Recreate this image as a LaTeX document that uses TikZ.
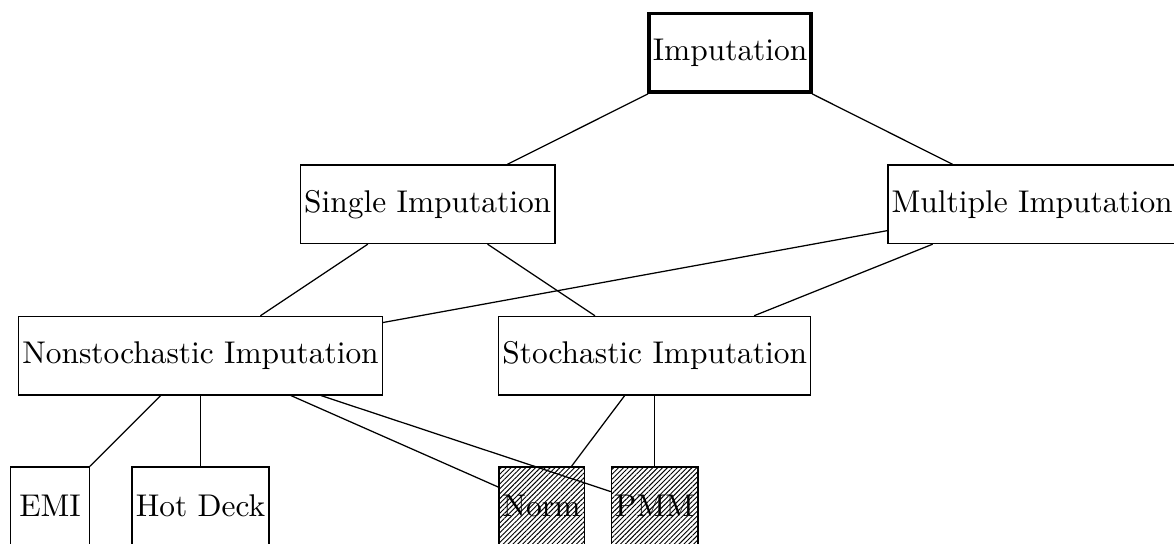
\documentclass[tikz,border=0pt]{standalone}
\usetikzlibrary{patterns.meta}
\begin{document}
\begin{tikzpicture}[box/.style={draw,minimum size=25pt,inner xsep=1.2pt},
        hatched/.style={box,pattern={Lines[angle=45,distance=1.1pt,line width=0.3pt]}}]
            \useasboundingbox (0,0) rectangle (13.137,6.087);
            \node [box,very thick] (imp) at (8.17,5.497) {Imputation};
            \node [box] (single) at (4.786,3.801) {Single Imputation};
            \node [box] (multiple) at (11.55,3.801) {Multiple Imputation};
            \node [box] (nonstoch) at (2.244,2.107) {Nonstochastic Imputation};
            \node [box] (stoch) at (7.326,2.107) {Stochastic Imputation};
            \node [box] (emi) at (0.56,0.423) {EMI};
            \node [box] (hotdeck) at (2.244,0.423) {Hot Deck};
            \node [hatched] (norm) at (6.06,0.423) {Norm};
            \node [hatched] (pmm) at (7.326,0.423) {PMM};
            \draw (imp) -- (single);
            \draw (imp) -- (multiple);
            \draw (single) -- (nonstoch);
            \draw (single) -- (stoch);
            \draw (multiple) -- (nonstoch);
            \draw (multiple) -- (stoch);
            \draw (nonstoch) -- (emi);
            \draw (nonstoch) -- (hotdeck);
            \draw (nonstoch) -- (norm);
            \draw (nonstoch) -- (pmm);
            \draw (stoch) -- (norm);
            \draw (stoch) -- (pmm);
        \end{tikzpicture}
\end{document}
